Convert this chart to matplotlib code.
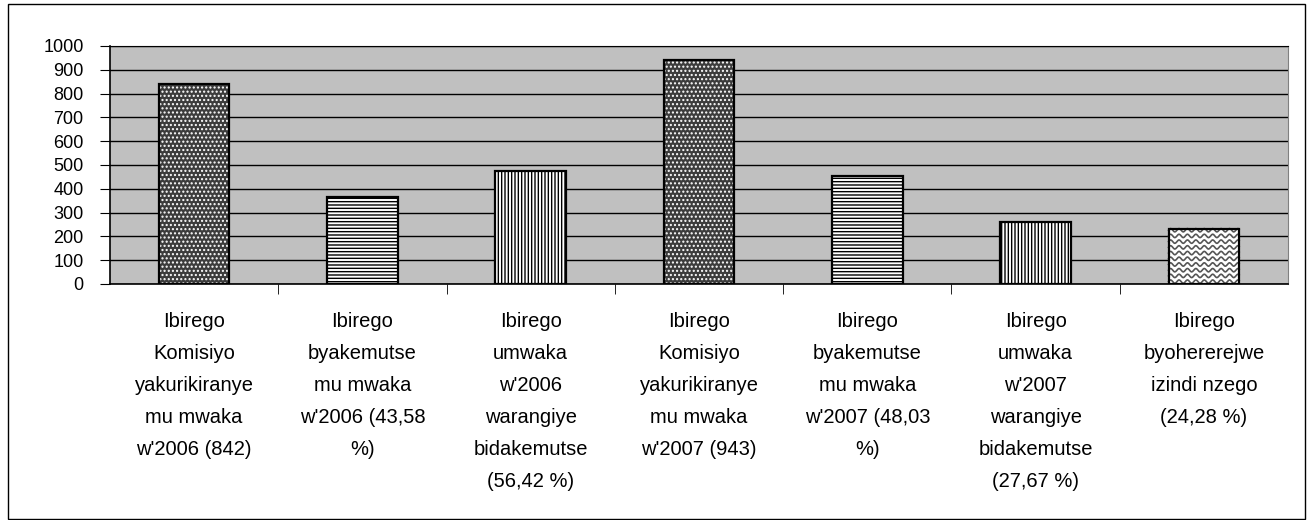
import numpy as np
import matplotlib
matplotlib.use('Agg')
import matplotlib.pyplot as plt
from matplotlib.patches import Rectangle

plt.rcParams['font.family'] = ['Liberation Sans', 'DejaVu Sans']
plt.rcParams['hatch.linewidth'] = 1.0

labels = [
    "Ibirego\nKomisiyo\nyakurikiranye\nmu mwaka\nw'2006 (842)",
    "Ibirego\nbyakemutse\nmu mwaka\nw'2006 (43,58\n%)",
    "Ibirego\numwaka\nw'2006\nwarangiye\nbidakemutse\n(56,42 %)",
    "Ibirego\nKomisiyo\nyakurikiranye\nmu mwaka\nw'2007 (943)",
    "Ibirego\nbyakemutse\nmu mwaka\nw'2007 (48,03\n%)",
    "Ibirego\numwaka\nw'2007\nwarangiye\nbidakemutse\n(27,67 %)",
    "Ibirego\nbyohererejwe\nizindi nzego\n(24,28 %)",
]
values = [842, 367, 475, 943, 453, 261, 229]
yticks = [0, 100, 200, 300, 400, 500, 600, 700, 800, 900, 1000]

# pattern per bar: (face, hatch, hatch colour)
styles = [
    ('#3c3c3c', '....', 'white'),
    ('white', '-----', 'black'),
    ('white', '|||||', 'black'),
    ('#3c3c3c', '....', 'white'),
    ('white', '-----', 'black'),
    ('white', '|||||', 'black'),
    ('white', None, 'black'),
]

fig = plt.figure(figsize=(13.07, 5.2), dpi=100)
ax = fig.add_axes([110 / 1307, 1 - 284 / 520, 1178 / 1307, 238 / 520])
ax.set_facecolor('#c0c0c0')

x = np.arange(len(values))
width = 0.42
for i, (v, (face, hatch, hcol)) in enumerate(zip(values, styles)):
    ax.bar(x[i], v, width, color=face, edgecolor=hcol, hatch=hatch, linewidth=0, zorder=3)
    outline = ax.bar(x[i], v, width, fill=False, edgecolor='black', linewidth=1.6, zorder=5)
    if hatch is None:
        # wavy fill for the last bar
        p = outline[0]
        xs = np.linspace(x[i] - width / 2, x[i] + width / 2, 200)
        for base in np.arange(10, v + 20, 24):
            ax.plot(xs, base + 7 * np.sin((xs - xs[0]) / 0.05 * 2 * np.pi),
                    color='#555555', lw=1.2, zorder=4, clip_path=p)

ax.set_xlim(-0.5, len(values) - 0.5)
ax.set_ylim(0, 1000)
ax.set_yticks(yticks)
ax.tick_params(axis='y', labelsize=13, length=7, pad=12, direction='out')
ax.set_xticks(x)
ax.set_xticklabels(labels, fontsize=14.5, linespacing=1.87)
ax.tick_params(axis='x', length=0, pad=20)
ax.set_xticks(np.arange(-0.5, len(values) - 0.5, 1)[1:], minor=True)
ax.tick_params(axis='x', which='minor', length=7, direction='out', color='black')
ax.grid(axis='y', color='black', linewidth=1, zorder=1)
ax.set_axisbelow(True)

for side in ['left', 'bottom']:
    ax.spines[side].set_color('black')
    ax.spines[side].set_linewidth(1.2)
ax.spines['right'].set_color('#808080')
ax.spines['top'].set_color('black')

fig.patches.append(Rectangle((8 / 1307, 1 / 520), 1297 / 1307, 515 / 520,
                             transform=fig.transFigure, fill=False,
                             edgecolor='black', linewidth=1))

fig.savefig('out.png', dpi=100)
